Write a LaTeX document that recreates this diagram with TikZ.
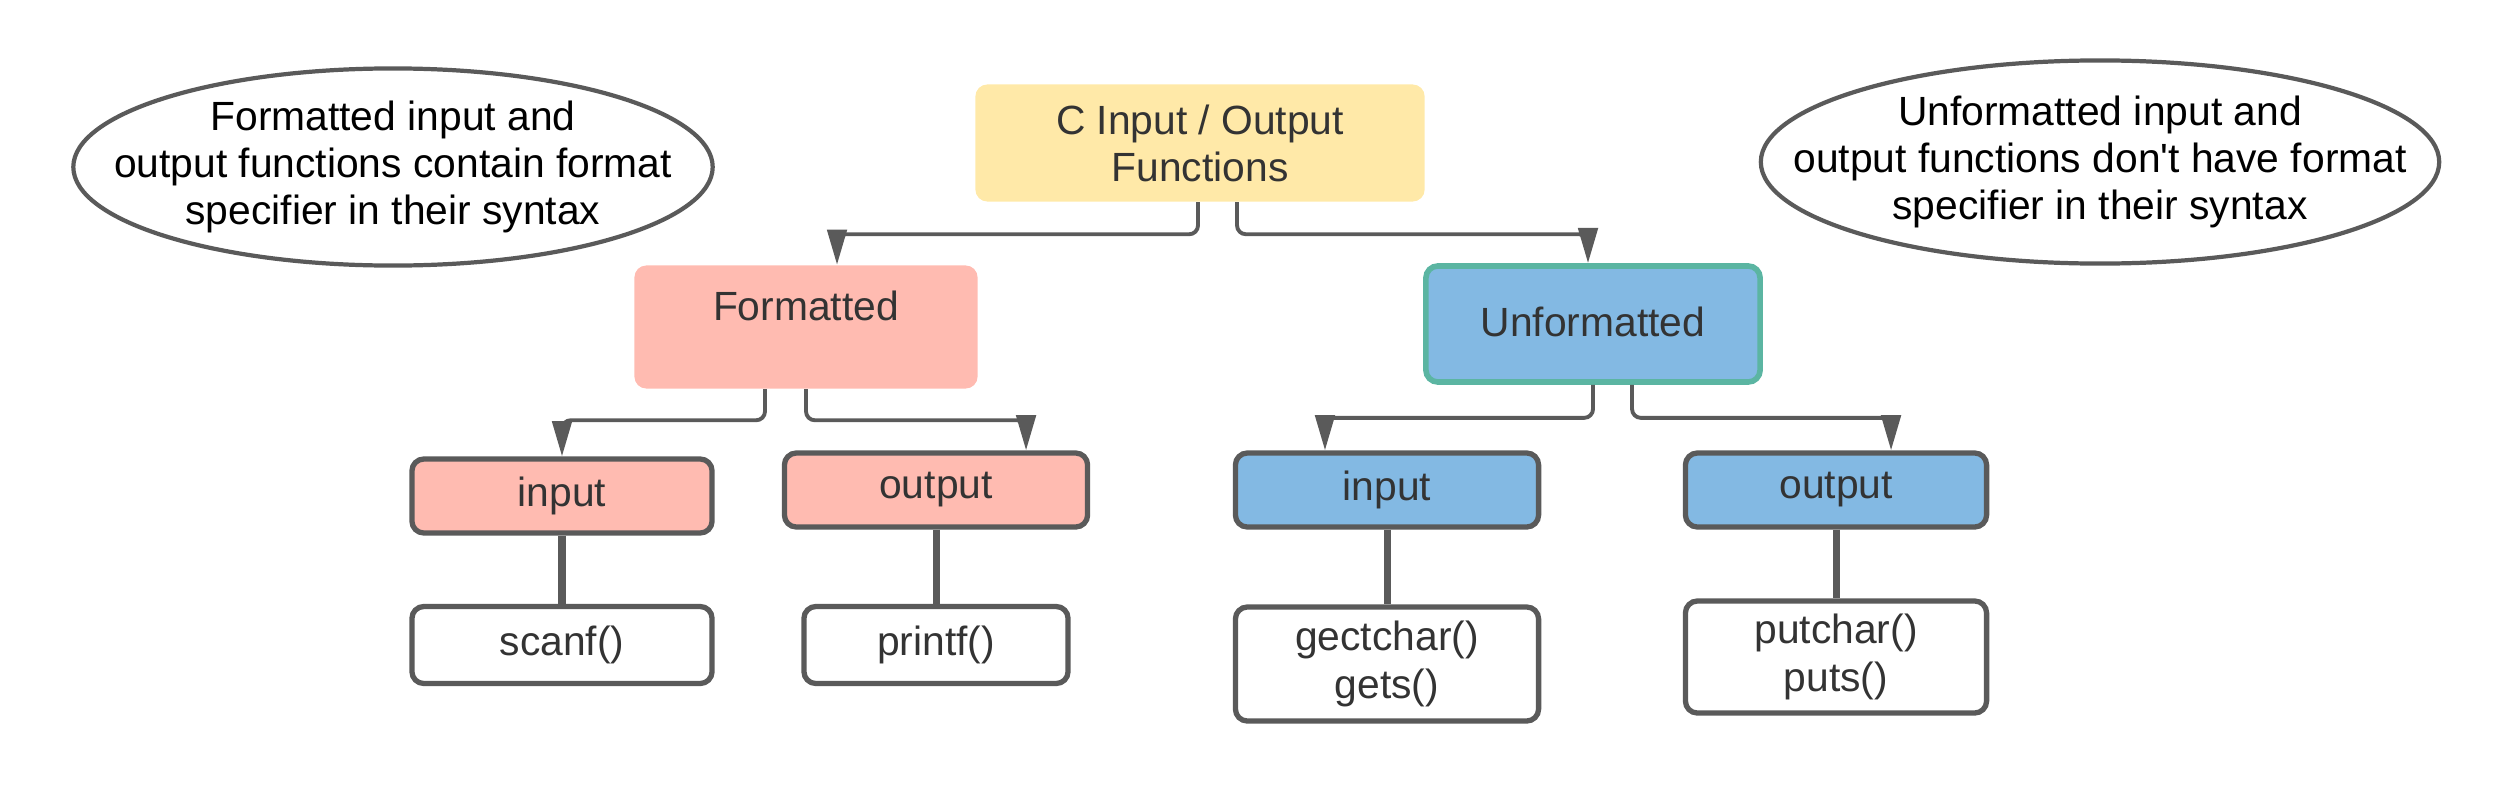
\documentclass[tikz,border=0pt]{standalone}
\usepackage{fontspec}
\setmainfont{Liberation Sans}
\usetikzlibrary{arrows.meta}

\definecolor{boxyellow}{HTML}{FFE9A8}
\definecolor{boxsalmon}{HTML}{FFBBB1}
\definecolor{boxblue}{HTML}{83B9E3}
\definecolor{edgeteal}{HTML}{5BB5A2}
\definecolor{edgegray}{HTML}{5A5A5A}
\definecolor{textgray}{HTML}{333333}

\tikzset{
  base/.style={rounded corners=3.4pt, align=center, inner sep=0pt, text=textgray,
    font=\fontsize{11.6pt}{13.4pt}\selectfont},
  topbox/.style={base, fill=boxyellow, minimum width=4.49cm, minimum height=1.17cm},
  fmtbox/.style={base, fill=boxsalmon, minimum width=3.43cm, minimum height=1.23cm},
  unfbox/.style={base, fill=boxblue, draw=edgeteal, line width=1.6pt, minimum width=3.34cm, minimum height=1.16cm},
  leafbox/.style={base, draw=edgegray, line width=1.5pt, minimum width=#1, minimum height=0.70cm},
  note/.style={align=center, inner sep=0pt, text=black,
    font=\fontsize{11.6pt}{13.4pt}\selectfont},
  noteline/.style={draw=edgegray, line width=1.2pt},
  conn/.style={draw=edgegray, line width=1.1pt, rounded corners=2.5pt,
    -{Triangle[length=10pt,width=5.5pt]}},
  stem/.style={draw=edgegray, line width=2pt}
}

\begin{document}
\begin{tikzpicture}[x=0.01cm,y=-0.01cm]
  \useasboundingbox (0,0) rectangle (2513,797);

  % notes
  \node[note] (lnote) at (393,167)
    {Formatted input and\\output functions contain format\\specifier in their syntax};
  \draw[noteline] (lnote.center) ellipse [x radius=3.195cm, y radius=0.985cm];
  \node[note] (rnote) at (2100,162)
    {Unformatted input and\\output functions don\textquotesingle t have format\\specifier in their syntax};
  \draw[noteline] (rnote.center) ellipse [x radius=3.39cm, y radius=1.015cm];

  % top level
  \node[topbox] (top) at (1200,143) {\raisebox{0.04cm}{\parbox{4cm}{\centering C Input / Output\\Functions}}};

  % second level
  \node[fmtbox] (fmt) at (806,327) {\raisebox{0.43cm}{Formatted}};
  \node[unfbox] (unf) at (1593,324) {\raisebox{0.04cm}{Unformatted}};

  % third level
  \node[leafbox=3.0cm, fill=boxsalmon, minimum height=0.74cm] (fin) at (562,496) {input};
  \node[leafbox=3.03cm, fill=boxsalmon, minimum height=0.74cm] (fout) at (936,490) {output};
  \node[leafbox=3.03cm, fill=boxblue, minimum height=0.74cm] (uin) at (1387,490) {input};
  \node[leafbox=3.01cm, fill=boxblue, minimum height=0.74cm] (uout) at (1836,490) {output};

  % functions
  \node[leafbox=3.0cm, fill=white, minimum height=0.77cm] (scan) at (562,645) {scanf()};
  \node[leafbox=2.64cm, fill=white, minimum height=0.77cm] (prnt) at (936,645) {printf()};
  \node[leafbox=3.03cm, fill=white, minimum height=1.14cm] (gets) at (1387,664) {gectchar()\\gets()};
  \node[leafbox=3.01cm, fill=white, minimum height=1.12cm] (puts) at (1836,657) {putchar()\\puts()};

  % connectors
  \draw[conn] ([xshift=-0.02cm]top.south) -- ++(0,32) -| ([xshift=0.31cm]fmt.north);
  \draw[conn] ([xshift=0.37cm]top.south) -- ++(0,32) -| ([xshift=-0.05cm]unf.north);
  \draw[conn] ([xshift=-0.41cm]fmt.south) -- ++(0,31) -| (fin.north);
  \draw[conn] (fmt.south) -- ++(0,31) -| ([xshift=0.90cm]fout.north);
  \draw[conn] (unf.south) -- ++(0,33) -| ([xshift=-0.62cm]uin.north);
  \draw[conn] ([xshift=0.39cm]unf.south) -- ++(0,33) -| ([xshift=0.55cm]uout.north);

  \draw[stem] (fin) -- (scan);
  \draw[stem] (fout) -- (prnt);
  \draw[stem] (uin) -- (gets);
  \draw[stem] (uout) -- (puts);
\end{tikzpicture}
\end{document}
